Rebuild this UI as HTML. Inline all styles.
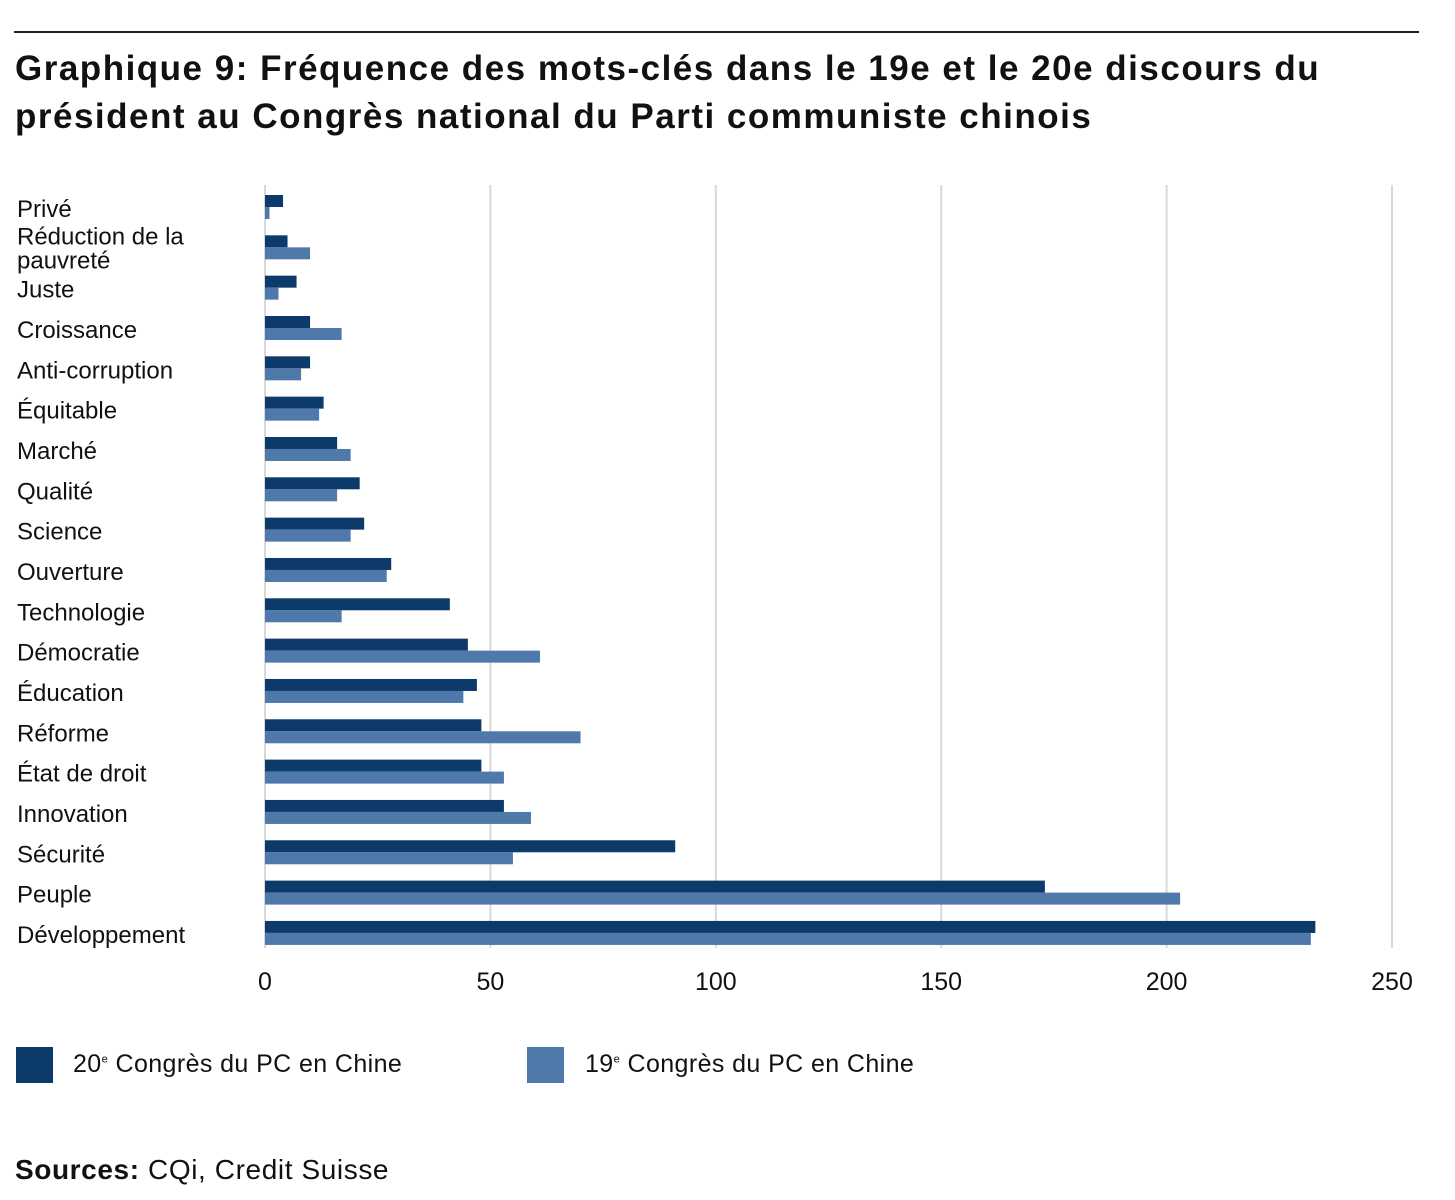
<!DOCTYPE html>
<html><head><meta charset="utf-8"><style>
body{margin:0;background:#fff;width:1455px;height:1200px;overflow:hidden;font-family:"Liberation Sans",sans-serif;color:#111;position:relative}
.t{position:absolute;white-space:nowrap}
</style></head><body>
<div style="position:absolute;left:14px;top:31px;width:1405px;height:2px;background:#222"></div>
<div class="t" style="left:15px;top:45px;font-size:35px;font-weight:bold;line-height:48px;letter-spacing:1.5px">Graphique 9: Fréquence des mots-clés dans le 19e et le 20e discours du<br>président au Congrès national du Parti communiste chinois</div>
<svg id="chart" width="1455" height="1020" style="position:absolute;left:0;top:0"></svg>
<div style="position:absolute;left:16px;top:1047px;width:37px;height:36px;background:#0b3a6b"></div>
<div class="t" style="left:73px;top:1050px;font-size:25px;letter-spacing:0.4px">20<sup style="font-size:11px">e</sup> Congrès du PC en Chine</div>
<div style="position:absolute;left:527px;top:1047px;width:37px;height:36px;background:#5079ab"></div>
<div class="t" style="left:585px;top:1050px;font-size:25px;letter-spacing:0.4px">19<sup style="font-size:11px">e</sup> Congrès du PC en Chine</div>
<div class="t" style="left:15px;top:1154px;font-size:28px;letter-spacing:0.6px"><b>Sources:</b> CQi, Credit Suisse</div>
<script>
const categories=["Privé","Réduction de la pauvreté","Juste","Croissance","Anti-corruption","Équitable","Marché","Qualité","Science","Ouverture","Technologie","Démocratie","Éducation","Réforme","État de droit","Innovation","Sécurité","Peuple","Développement"];
const series20=[4,5,7,10,10,13,16,21,22,28,41,45,47,48,48,53,91,173,233];
const series19=[1,10,3,17,8,12,19,16,19,27,17,61,44,70,53,59,55,203,232];
const ticks=[0,50,100,150,200,250];
const svg=document.getElementById('chart');const NS='http://www.w3.org/2000/svg';
const x0=265,x1=1392,vmax=250;
const xs=v=>x0+(x1-x0)*v/vmax;
const y0=206,step=40.33;
const ys=i=>y0+i*step;
function mk(tag,attrs){const e=document.createElementNS(NS,tag);for(const k in attrs)e.setAttribute(k,attrs[k]);svg.appendChild(e);return e;}
ticks.forEach(t=>{
  if(t>0){const g=mk('line',{x1:xs(t),x2:xs(t),y1:185,y2:948,stroke:'#d8d8d8','stroke-width':2});
  
  }
  const l=mk('text',{x:xs(t),y:990,'text-anchor':'middle','font-size':25,fill:'#111'});l.textContent=t;
  
  
});
const ax=mk('line',{x1:x0,x2:x0,y1:185,y2:948,stroke:'#d8d8d8','stroke-width':2});


categories.forEach((c,i)=>{
  const y=ys(i);
  const a=mk('rect',{x:x0,y:y-11,width:xs(series20[i])-x0,height:12,fill:'#0b3a6b'});
  
  
  const b=mk('rect',{x:x0,y:y+1,width:xs(series19[i])-x0,height:12,fill:'#5079ab'});
  
  
  const lab=mk('text',{x:17,y:y+11,'font-size':24,fill:'#111'});
  
  
  if(c==="Réduction de la pauvreté"){
    const t1=mk('tspan',{x:17,y:y-2});t1.textContent="Réduction de la";lab.appendChild(t1);
    const t2=mk('tspan',{x:17,y:y+22});t2.textContent="pauvreté";lab.appendChild(t2);
  } else lab.textContent=c;
});
</script>
</body></html>
